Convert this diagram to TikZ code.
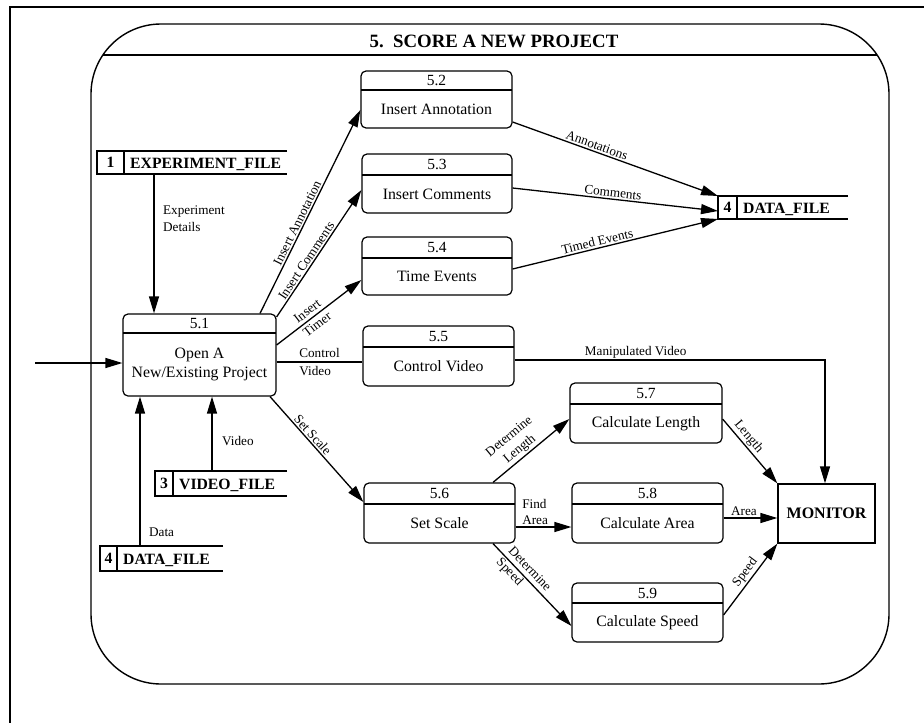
\documentclass[tikz,border=0pt]{standalone}
\usepackage{fontspec}
\setmainfont{Liberation Serif}
\usetikzlibrary{arrows.meta}

\tikzset{
  procbox/.style={draw, line width=1.2pt, rounded corners=5pt, inner sep=0pt},
  hdrline/.style={line width=1.8pt},
  procnum/.style={font=\fontsize{15.5}{18}\selectfont, inner sep=0pt},
  proctext/.style={font=\fontsize{15.8}{19.5}\selectfont, align=center, inner sep=0pt},
  sinkbox/.style={draw, line width=1.3pt, inner sep=0pt},
  storearea/.style={inner sep=0pt, outer sep=0pt},
  storeline/.style={line width=1.4pt},
  storenum/.style={font=\fontsize{15.7}{18}\selectfont\bfseries, inner sep=0pt},
  storelabel/.style={font=\fontsize{15.7}{18}\selectfont\bfseries, inner sep=0pt},
  flow/.style={line width=1.3pt, -{Triangle[length=17pt,width=10pt]}},
  plainflow/.style={line width=1.3pt},
  lbl/.style={font=\fontsize{13.2}{16.5}\selectfont, inner sep=1.5pt},
}

% process bubble: name, x1, y1, x2, y2, header y, number, text
\newcommand{\procbox}[8]{%
  \node[procbox, minimum width={(#4-#2)*1pt}, minimum height={(#5-#3)*1pt}]
    (#1) at ({(#2+#4)/2},{(#3+#5)/2}) {};
  \draw[hdrline] ({#2},{#6}) -- ({#4},{#6});
  \node[procnum] (#1-num) at ({(#2+#4)/2},{(#3+#6)/2}) {#7};
  \node[proctext] (#1-txt) at ({(#2+#4)/2},{(#6+#5)/2}) {#8};
}

% open-ended data store: name, x1, y1, x2, y2, divider x, number, label
\newcommand{\datastore}[8]{%
  \node[storearea, minimum width={(#4-#2)*1pt}, minimum height={(#5-#3)*1pt}]
    (#1) at ({(#2+#4)/2},{(#3+#5)/2}) {};
  \draw[storeline] (#1.north east) -- (#1.north west) -- (#1.south west) -- (#1.south east);
  \draw[storeline] ({#6},{#3}) -- ({#6},{#5});
  \node[storenum] (#1-num) at ({(#2+#6)/2},{(#3+#5)/2}) {#7};
  \node[storelabel, anchor=base west] (#1-lbl) at ({#6+6},{(#3+#5)/2+5.5}) {#8};
}

\begin{document}
\begin{tikzpicture}[x=1pt,y=-1pt]
\useasboundingbox (0,0) rectangle (924,723);

% page border
\draw[line width=1.3pt] (10,723) -- (10,7) -- (924,7);

% level-5 frame with title bar
\node[draw, line width=1.4pt, rounded corners=70pt, minimum width=798pt,
      minimum height=660pt, inner sep=0pt] (frame) at (490,354) {};
\draw[line width=1.4pt] (103,55) -- (877,55);
\node[font=\fontsize{18.8}{22}\selectfont\bfseries] (title) at (494,41)
  {5.\ \ SCORE A NEW PROJECT};

% processes
\procbox{p51}{123}{314}{276}{396}{333}{5.1}{Open A\\New/Existing Project}
\procbox{p52}{361}{71}{512}{128}{90}{5.2}{Insert Annotation}
\procbox{p53}{362}{154}{512}{213}{175}{5.3}{Insert Comments}
\procbox{p54}{362}{237}{512}{295}{258}{5.4}{Time Events}
\procbox{p55}{363}{326}{514}{386}{347}{5.5}{Control Video}
\procbox{p56}{364}{483}{515}{543}{504}{5.6}{Set Scale}
\procbox{p57}{570}{383}{722}{443}{404}{5.7}{Calculate Length}
\procbox{p58}{572}{483}{723}{543}{504}{5.8}{Calculate Area}
\procbox{p59}{572}{583}{723}{642}{603}{5.9}{Calculate Speed}

% external entity
\node[sinkbox, minimum width=97pt, minimum height=59pt,
      font=\fontsize{16}{19}\selectfont\bfseries] (mon) at (826.5,513.5) {MONITOR};

% data stores
\datastore{s1}{97}{151}{287}{174}{124}{1}{EXPERIMENT\_FILE}
\datastore{s4r}{718}{196}{848}{219}{737}{4}{DATA\_FILE}
\datastore{s3}{155}{471}{287}{496}{173}{3}{VIDEO\_FILE}
\datastore{s4l}{100}{546}{223}{571}{117}{4}{DATA\_FILE}

% flows into 5.1
\coordinate (src) at (35,363);
\draw[flow] (src) -- (p51.west |- 0,363);
\draw[flow] (s1.south -| 154,0) -- node[lbl, pos=0.32, right=7pt, align=left] {Experiment\\Details} (p51.north -| 154,0);
\draw[flow] (s3.north -| 212,0) -- node[lbl, pos=0.4, right=8pt] {Video} (p51.south -| 212,0);
\draw[flow] (s4l.north -| 140,0) -- node[lbl, pos=0.09, right=7pt] {Data} (p51.south -| 140,0);

% flows out of 5.1
\draw[flow] (p51.north -| 260,0) -- node[lbl, sloped, pos=0.43, above] {Insert Annotation} (p52.west |- 0,110);
\draw[flow] (p51.east |- 0,317) -- node[lbl, sloped, pos=0.415, above] {Insert Comments} (p53.west |- 0,190);
\draw[flow] (p51.east |- 0,345) -- node[lbl, sloped, pos=0.42, align=center] {Insert\\Timer} (p54.west |- 0,280);
\draw[plainflow] (p51.east |- 0,362) -- node[lbl, pos=0.5, above=2pt] {Control} node[lbl, pos=0.45, below=2pt] {Video} (p55.west |- 0,362);
\draw[flow] (p51.south -| 270,0) -- node[lbl, sloped, pos=0.405, above] {Set Scale} (p56.west |- 0,502);

% flows into the data file
\draw[flow] (p52.east |- 0,122) -- node[lbl, sloped, pos=0.40, above] {Annotations} (s4r.north west);
\draw[flow] (p53.east |- 0,188) -- node[lbl, sloped, pos=0.485, above] {Comments} (s4r.west |- 0,211);
\draw[flow] (p54.east |- 0,269) -- node[lbl, sloped, pos=0.42, above] {Timed Events} (s4r.south west);

% video and measurements to the monitor
\draw[flow] (p55.east |- 0,360) -| node[lbl, pos=0.195, above] {Manipulated Video} (mon.north -| 825,0);
\draw[flow] (p56.north -| 493,0) -- node[lbl, sloped, pos=0.42, above, align=center] {Determine\\Length} (p57.west |- 0,419);
\draw[flow] (p56.east |- 0,527) -- node[lbl, pos=0.35, above, align=left] {Find\\Area} (p58.west |- 0,527);
\draw[flow] (p56.south -| 493,0) -- node[lbl, sloped, pos=0.385, align=left] {Determine\\Speed} (p59.west |- 0,626);
\draw[flow] (p57.east |- 0,419) -- node[lbl, sloped, pos=0.36, above] {Length} (mon.north west);
\draw[flow] (p58.east |- 0,518) -- node[lbl, pos=0.38, above] {Area} (mon.west |- 0,518);
\draw[flow] (p59.east |- 0,615) -- node[lbl, sloped, pos=0.525, above] {Speed} (mon.south west);

\end{tikzpicture}
\end{document}
